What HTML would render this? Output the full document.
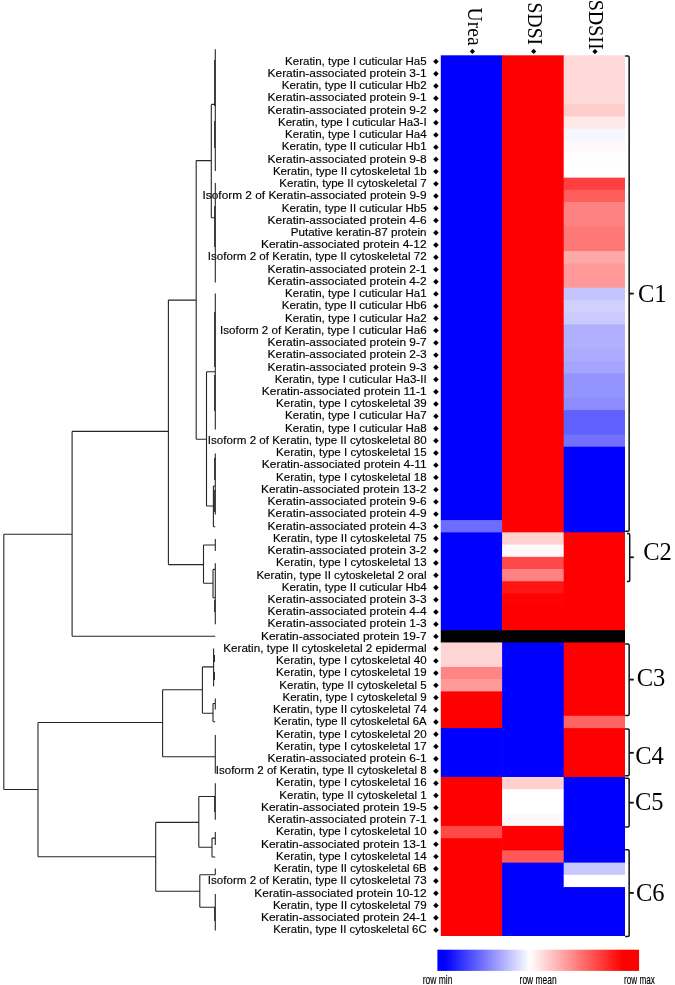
<!DOCTYPE html>
<html><head><meta charset="utf-8"><title>Keratin heatmap</title>
<style>html,body{margin:0;padding:0;background:#fff;}svg{display:block;}.lab{font-family:"Liberation Sans",sans-serif;font-size:11.4px;fill:#000;}.ser{font-family:"Liberation Serif",serif;fill:#000;}</style></head><body>
<svg width="675" height="985" viewBox="0 0 675 985" style="will-change:transform">
<rect x="0" y="0" width="675" height="985" fill="#ffffff"/>
<defs><linearGradient id="lg" x1="0" y1="0" x2="1" y2="0"><stop offset="0" stop-color="#0000ff"/><stop offset="0.038" stop-color="#0000ff"/><stop offset="0.4576" stop-color="#ffffff"/><stop offset="0.92" stop-color="#ff0000"/><stop offset="1" stop-color="#ff0000"/></linearGradient></defs>
<g id="heat">
<rect x="440.80" y="55.30" width="61.90" height="465.41" fill="#0000ff"/>
<rect x="440.80" y="520.11" width="61.90" height="12.83" fill="#6c6cff"/>
<rect x="440.80" y="532.35" width="61.90" height="98.46" fill="#0000ff"/>
<rect x="440.80" y="630.20" width="61.90" height="12.83" fill="#000000"/>
<rect x="440.80" y="642.43" width="61.90" height="25.06" fill="#ffd4d4"/>
<rect x="440.80" y="666.90" width="61.90" height="12.83" fill="#ff8484"/>
<rect x="440.80" y="679.13" width="61.90" height="12.83" fill="#ff9a9a"/>
<rect x="440.80" y="691.36" width="61.90" height="37.30" fill="#ff0000"/>
<rect x="440.80" y="728.06" width="61.90" height="49.53" fill="#0000ff"/>
<rect x="440.80" y="776.98" width="61.90" height="49.53" fill="#ff0000"/>
<rect x="440.80" y="825.91" width="61.90" height="12.83" fill="#ff4848"/>
<rect x="440.80" y="838.14" width="61.90" height="97.86" fill="#ff0000"/>
<rect x="502.10" y="55.30" width="62.20" height="477.65" fill="#ff0000"/>
<rect x="502.10" y="532.35" width="62.20" height="12.83" fill="#ffd0d0"/>
<rect x="502.10" y="544.58" width="62.20" height="12.83" fill="#fff8f8"/>
<rect x="502.10" y="556.81" width="62.20" height="12.83" fill="#ff4848"/>
<rect x="502.10" y="569.04" width="62.20" height="12.83" fill="#ff8282"/>
<rect x="502.10" y="581.27" width="62.20" height="12.83" fill="#ff1414"/>
<rect x="502.10" y="593.51" width="62.20" height="12.83" fill="#ff0202"/>
<rect x="502.10" y="605.74" width="62.20" height="25.06" fill="#ff0000"/>
<rect x="502.10" y="630.20" width="62.20" height="12.83" fill="#000000"/>
<rect x="502.10" y="642.43" width="62.20" height="135.15" fill="#0000ff"/>
<rect x="502.10" y="776.98" width="62.20" height="12.83" fill="#ffd0d0"/>
<rect x="502.10" y="789.22" width="62.20" height="25.06" fill="#ffffff"/>
<rect x="502.10" y="813.68" width="62.20" height="12.83" fill="#fff8f8"/>
<rect x="502.10" y="825.91" width="62.20" height="25.06" fill="#ff0000"/>
<rect x="502.10" y="850.38" width="62.20" height="12.83" fill="#ff5858"/>
<rect x="502.10" y="862.61" width="62.20" height="73.39" fill="#0000ff"/>
<rect x="563.70" y="55.30" width="61.30" height="49.53" fill="#ffd8d8"/>
<rect x="563.70" y="104.23" width="61.30" height="12.83" fill="#ffcccc"/>
<rect x="563.70" y="116.46" width="61.30" height="12.83" fill="#ffe8e8"/>
<rect x="563.70" y="128.69" width="61.30" height="12.83" fill="#f6f6ff"/>
<rect x="563.70" y="140.92" width="61.30" height="12.83" fill="#fffafa"/>
<rect x="563.70" y="153.16" width="61.30" height="12.83" fill="#fffefe"/>
<rect x="563.70" y="165.39" width="61.30" height="12.83" fill="#ffffff"/>
<rect x="563.70" y="177.62" width="61.30" height="12.83" fill="#ff4040"/>
<rect x="563.70" y="189.85" width="61.30" height="12.83" fill="#ff5c5c"/>
<rect x="563.70" y="202.08" width="61.30" height="25.06" fill="#ff8282"/>
<rect x="563.70" y="226.55" width="61.30" height="25.06" fill="#ff7878"/>
<rect x="563.70" y="251.01" width="61.30" height="12.83" fill="#ffa8a8"/>
<rect x="563.70" y="263.24" width="61.30" height="25.06" fill="#ff9898"/>
<rect x="563.70" y="287.71" width="61.30" height="12.83" fill="#c4c4ff"/>
<rect x="563.70" y="299.94" width="61.30" height="12.83" fill="#d0d0ff"/>
<rect x="563.70" y="312.17" width="61.30" height="12.83" fill="#cacaff"/>
<rect x="563.70" y="324.40" width="61.30" height="25.06" fill="#b0b0ff"/>
<rect x="563.70" y="348.87" width="61.30" height="12.83" fill="#ababff"/>
<rect x="563.70" y="361.10" width="61.30" height="12.83" fill="#a5a5ff"/>
<rect x="563.70" y="373.33" width="61.30" height="25.06" fill="#9494ff"/>
<rect x="563.70" y="397.79" width="61.30" height="12.83" fill="#8c8cff"/>
<rect x="563.70" y="410.03" width="61.30" height="25.06" fill="#6060ff"/>
<rect x="563.70" y="434.49" width="61.30" height="12.83" fill="#7272ff"/>
<rect x="563.70" y="446.72" width="61.30" height="86.22" fill="#0000ff"/>
<rect x="563.70" y="532.35" width="61.30" height="98.46" fill="#ff0000"/>
<rect x="563.70" y="630.20" width="61.30" height="12.83" fill="#000000"/>
<rect x="563.70" y="642.43" width="61.30" height="73.99" fill="#ff0000"/>
<rect x="563.70" y="715.82" width="61.30" height="12.83" fill="#ff6464"/>
<rect x="563.70" y="728.06" width="61.30" height="49.53" fill="#ff0000"/>
<rect x="563.70" y="776.98" width="61.30" height="86.22" fill="#0000ff"/>
<rect x="563.70" y="862.61" width="61.30" height="12.83" fill="#c8c8ff"/>
<rect x="563.70" y="874.84" width="61.30" height="12.83" fill="#ffffff"/>
<rect x="563.70" y="887.07" width="61.30" height="48.93" fill="#0000ff"/>
</g>
<g id="labels" class="lab" stroke="#000" stroke-width="0.15">
<g transform="translate(426.6 64.77) scale(1.0122 1)"><text text-anchor="end" x="0" y="0">Keratin, type I cuticular Ha5</text></g>
<path d="M433.20 61.52L435.90 58.82L438.60 61.52L435.90 64.22Z" fill="#000"/>
<g transform="translate(426.6 77.00) scale(1.0469 1)"><text text-anchor="end" x="0" y="0">Keratin-associated protein 3-1</text></g>
<path d="M433.20 73.75L435.90 71.05L438.60 73.75L435.90 76.45Z" fill="#000"/>
<g transform="translate(426.6 89.23) scale(1.0122 1)"><text text-anchor="end" x="0" y="0">Keratin, type II cuticular Hb2</text></g>
<path d="M433.20 85.98L435.90 83.28L438.60 85.98L435.90 88.68Z" fill="#000"/>
<g transform="translate(426.6 101.46) scale(1.0469 1)"><text text-anchor="end" x="0" y="0">Keratin-associated protein 9-1</text></g>
<path d="M433.20 98.21L435.90 95.51L438.60 98.21L435.90 100.91Z" fill="#000"/>
<g transform="translate(426.6 113.69) scale(1.0469 1)"><text text-anchor="end" x="0" y="0">Keratin-associated protein 9-2</text></g>
<path d="M433.20 110.44L435.90 107.74L438.60 110.44L435.90 113.14Z" fill="#000"/>
<g transform="translate(426.6 125.93) scale(1.0122 1)"><text text-anchor="end" x="0" y="0">Keratin, type I cuticular Ha3-I</text></g>
<path d="M433.20 122.68L435.90 119.98L438.60 122.68L435.90 125.38Z" fill="#000"/>
<g transform="translate(426.6 138.16) scale(1.0122 1)"><text text-anchor="end" x="0" y="0">Keratin, type I cuticular Ha4</text></g>
<path d="M433.20 134.91L435.90 132.21L438.60 134.91L435.90 137.61Z" fill="#000"/>
<g transform="translate(426.6 150.39) scale(1.0122 1)"><text text-anchor="end" x="0" y="0">Keratin, type II cuticular Hb1</text></g>
<path d="M433.20 147.14L435.90 144.44L438.60 147.14L435.90 149.84Z" fill="#000"/>
<g transform="translate(426.6 162.62) scale(1.0469 1)"><text text-anchor="end" x="0" y="0">Keratin-associated protein 9-8</text></g>
<path d="M433.20 159.37L435.90 156.67L438.60 159.37L435.90 162.07Z" fill="#000"/>
<g transform="translate(426.6 174.85) scale(1.0122 1)"><text text-anchor="end" x="0" y="0">Keratin, type II cytoskeletal 1b</text></g>
<path d="M433.20 171.60L435.90 168.90L438.60 171.60L435.90 174.30Z" fill="#000"/>
<g transform="translate(426.6 187.09) scale(1.0122 1)"><text text-anchor="end" x="0" y="0">Keratin, type II cytoskeletal 7</text></g>
<path d="M433.20 183.84L435.90 181.14L438.60 183.84L435.90 186.54Z" fill="#000"/>
<g transform="translate(426.6 199.32) scale(1.0411 1)"><text text-anchor="end" x="0" y="0">Isoform 2 of Keratin-associated protein 9-9</text></g>
<path d="M433.20 196.07L435.90 193.37L438.60 196.07L435.90 198.77Z" fill="#000"/>
<g transform="translate(426.6 211.55) scale(1.0122 1)"><text text-anchor="end" x="0" y="0">Keratin, type II cuticular Hb5</text></g>
<path d="M433.20 208.30L435.90 205.60L438.60 208.30L435.90 211.00Z" fill="#000"/>
<g transform="translate(426.6 223.78) scale(1.0469 1)"><text text-anchor="end" x="0" y="0">Keratin-associated protein 4-6</text></g>
<path d="M433.20 220.53L435.90 217.83L438.60 220.53L435.90 223.23Z" fill="#000"/>
<g transform="translate(426.6 236.01) scale(1.0228 1)"><text text-anchor="end" x="0" y="0">Putative keratin-87 protein</text></g>
<path d="M433.20 232.76L435.90 230.06L438.60 232.76L435.90 235.46Z" fill="#000"/>
<g transform="translate(426.6 248.25) scale(1.0469 1)"><text text-anchor="end" x="0" y="0">Keratin-associated protein 4-12</text></g>
<path d="M433.20 245.00L435.90 242.30L438.60 245.00L435.90 247.70Z" fill="#000"/>
<g transform="translate(426.6 260.48) scale(1.0161 1)"><text text-anchor="end" x="0" y="0">Isoform 2 of Keratin, type II cytoskeletal 72</text></g>
<path d="M433.20 257.23L435.90 254.53L438.60 257.23L435.90 259.93Z" fill="#000"/>
<g transform="translate(426.6 272.71) scale(1.0469 1)"><text text-anchor="end" x="0" y="0">Keratin-associated protein 2-1</text></g>
<path d="M433.20 269.46L435.90 266.76L438.60 269.46L435.90 272.16Z" fill="#000"/>
<g transform="translate(426.6 284.94) scale(1.0469 1)"><text text-anchor="end" x="0" y="0">Keratin-associated protein 4-2</text></g>
<path d="M433.20 281.69L435.90 278.99L438.60 281.69L435.90 284.39Z" fill="#000"/>
<g transform="translate(426.6 297.17) scale(1.0122 1)"><text text-anchor="end" x="0" y="0">Keratin, type I cuticular Ha1</text></g>
<path d="M433.20 293.92L435.90 291.22L438.60 293.92L435.90 296.62Z" fill="#000"/>
<g transform="translate(426.6 309.40) scale(1.0122 1)"><text text-anchor="end" x="0" y="0">Keratin, type II cuticular Hb6</text></g>
<path d="M433.20 306.15L435.90 303.45L438.60 306.15L435.90 308.85Z" fill="#000"/>
<g transform="translate(426.6 321.64) scale(1.0122 1)"><text text-anchor="end" x="0" y="0">Keratin, type I cuticular Ha2</text></g>
<path d="M433.20 318.39L435.90 315.69L438.60 318.39L435.90 321.09Z" fill="#000"/>
<g transform="translate(426.6 333.87) scale(1.0161 1)"><text text-anchor="end" x="0" y="0">Isoform 2 of Keratin, type I cuticular Ha6</text></g>
<path d="M433.20 330.62L435.90 327.92L438.60 330.62L435.90 333.32Z" fill="#000"/>
<g transform="translate(426.6 346.10) scale(1.0469 1)"><text text-anchor="end" x="0" y="0">Keratin-associated protein 9-7</text></g>
<path d="M433.20 342.85L435.90 340.15L438.60 342.85L435.90 345.55Z" fill="#000"/>
<g transform="translate(426.6 358.33) scale(1.0469 1)"><text text-anchor="end" x="0" y="0">Keratin-associated protein 2-3</text></g>
<path d="M433.20 355.08L435.90 352.38L438.60 355.08L435.90 357.78Z" fill="#000"/>
<g transform="translate(426.6 370.56) scale(1.0469 1)"><text text-anchor="end" x="0" y="0">Keratin-associated protein 9-3</text></g>
<path d="M433.20 367.31L435.90 364.61L438.60 367.31L435.90 370.01Z" fill="#000"/>
<g transform="translate(426.6 382.80) scale(1.0122 1)"><text text-anchor="end" x="0" y="0">Keratin, type I cuticular Ha3-II</text></g>
<path d="M433.20 379.55L435.90 376.85L438.60 379.55L435.90 382.25Z" fill="#000"/>
<g transform="translate(426.6 395.03) scale(1.0469 1)"><text text-anchor="end" x="0" y="0">Keratin-associated protein 11-1</text></g>
<path d="M433.20 391.78L435.90 389.08L438.60 391.78L435.90 394.48Z" fill="#000"/>
<g transform="translate(426.6 407.26) scale(1.0122 1)"><text text-anchor="end" x="0" y="0">Keratin, type I cytoskeletal 39</text></g>
<path d="M433.20 404.01L435.90 401.31L438.60 404.01L435.90 406.71Z" fill="#000"/>
<g transform="translate(426.6 419.49) scale(1.0122 1)"><text text-anchor="end" x="0" y="0">Keratin, type I cuticular Ha7</text></g>
<path d="M433.20 416.24L435.90 413.54L438.60 416.24L435.90 418.94Z" fill="#000"/>
<g transform="translate(426.6 431.72) scale(1.0122 1)"><text text-anchor="end" x="0" y="0">Keratin, type I cuticular Ha8</text></g>
<path d="M433.20 428.47L435.90 425.77L438.60 428.47L435.90 431.17Z" fill="#000"/>
<g transform="translate(426.6 443.96) scale(1.0161 1)"><text text-anchor="end" x="0" y="0">Isoform 2 of Keratin, type II cytoskeletal 80</text></g>
<path d="M433.20 440.71L435.90 438.01L438.60 440.71L435.90 443.41Z" fill="#000"/>
<g transform="translate(426.6 456.19) scale(1.0122 1)"><text text-anchor="end" x="0" y="0">Keratin, type I cytoskeletal 15</text></g>
<path d="M433.20 452.94L435.90 450.24L438.60 452.94L435.90 455.64Z" fill="#000"/>
<g transform="translate(426.6 468.42) scale(1.0469 1)"><text text-anchor="end" x="0" y="0">Keratin-associated protein 4-11</text></g>
<path d="M433.20 465.17L435.90 462.47L438.60 465.17L435.90 467.87Z" fill="#000"/>
<g transform="translate(426.6 480.65) scale(1.0122 1)"><text text-anchor="end" x="0" y="0">Keratin, type I cytoskeletal 18</text></g>
<path d="M433.20 477.40L435.90 474.70L438.60 477.40L435.90 480.10Z" fill="#000"/>
<g transform="translate(426.6 492.88) scale(1.0469 1)"><text text-anchor="end" x="0" y="0">Keratin-associated protein 13-2</text></g>
<path d="M433.20 489.63L435.90 486.93L438.60 489.63L435.90 492.33Z" fill="#000"/>
<g transform="translate(426.6 505.12) scale(1.0469 1)"><text text-anchor="end" x="0" y="0">Keratin-associated protein 9-6</text></g>
<path d="M433.20 501.87L435.90 499.17L438.60 501.87L435.90 504.57Z" fill="#000"/>
<g transform="translate(426.6 517.35) scale(1.0469 1)"><text text-anchor="end" x="0" y="0">Keratin-associated protein 4-9</text></g>
<path d="M433.20 514.10L435.90 511.40L438.60 514.10L435.90 516.80Z" fill="#000"/>
<g transform="translate(426.6 529.58) scale(1.0469 1)"><text text-anchor="end" x="0" y="0">Keratin-associated protein 4-3</text></g>
<path d="M433.20 526.33L435.90 523.63L438.60 526.33L435.90 529.03Z" fill="#000"/>
<g transform="translate(426.6 541.81) scale(1.0122 1)"><text text-anchor="end" x="0" y="0">Keratin, type II cytoskeletal 75</text></g>
<path d="M433.20 538.56L435.90 535.86L438.60 538.56L435.90 541.26Z" fill="#000"/>
<g transform="translate(426.6 554.04) scale(1.0469 1)"><text text-anchor="end" x="0" y="0">Keratin-associated protein 3-2</text></g>
<path d="M433.20 550.79L435.90 548.09L438.60 550.79L435.90 553.49Z" fill="#000"/>
<g transform="translate(426.6 566.28) scale(1.0122 1)"><text text-anchor="end" x="0" y="0">Keratin, type I cytoskeletal 13</text></g>
<path d="M433.20 563.03L435.90 560.33L438.60 563.03L435.90 565.73Z" fill="#000"/>
<g transform="translate(426.6 578.51) scale(1.0151 1)"><text text-anchor="end" x="0" y="0">Keratin, type II cytoskeletal 2 oral</text></g>
<path d="M433.20 575.26L435.90 572.56L438.60 575.26L435.90 577.96Z" fill="#000"/>
<g transform="translate(426.6 590.74) scale(1.0122 1)"><text text-anchor="end" x="0" y="0">Keratin, type II cuticular Hb4</text></g>
<path d="M433.20 587.49L435.90 584.79L438.60 587.49L435.90 590.19Z" fill="#000"/>
<g transform="translate(426.6 602.97) scale(1.0469 1)"><text text-anchor="end" x="0" y="0">Keratin-associated protein 3-3</text></g>
<path d="M433.20 599.72L435.90 597.02L438.60 599.72L435.90 602.42Z" fill="#000"/>
<g transform="translate(426.6 615.20) scale(1.0469 1)"><text text-anchor="end" x="0" y="0">Keratin-associated protein 4-4</text></g>
<path d="M433.20 611.95L435.90 609.25L438.60 611.95L435.90 614.65Z" fill="#000"/>
<g transform="translate(426.6 627.44) scale(1.0469 1)"><text text-anchor="end" x="0" y="0">Keratin-associated protein 1-3</text></g>
<path d="M433.20 624.19L435.90 621.49L438.60 624.19L435.90 626.89Z" fill="#000"/>
<g transform="translate(426.6 639.67) scale(1.0469 1)"><text text-anchor="end" x="0" y="0">Keratin-associated protein 19-7</text></g>
<path d="M433.20 636.42L435.90 633.72L438.60 636.42L435.90 639.12Z" fill="#000"/>
<g transform="translate(426.6 651.90) scale(1.0238 1)"><text text-anchor="end" x="0" y="0">Keratin, type II cytoskeletal 2 epidermal</text></g>
<path d="M433.20 648.65L435.90 645.95L438.60 648.65L435.90 651.35Z" fill="#000"/>
<g transform="translate(426.6 664.13) scale(1.0122 1)"><text text-anchor="end" x="0" y="0">Keratin, type I cytoskeletal 40</text></g>
<path d="M433.20 660.88L435.90 658.18L438.60 660.88L435.90 663.58Z" fill="#000"/>
<g transform="translate(426.6 676.36) scale(1.0122 1)"><text text-anchor="end" x="0" y="0">Keratin, type I cytoskeletal 19</text></g>
<path d="M433.20 673.11L435.90 670.41L438.60 673.11L435.90 675.81Z" fill="#000"/>
<g transform="translate(426.6 688.60) scale(1.0122 1)"><text text-anchor="end" x="0" y="0">Keratin, type II cytoskeletal 5</text></g>
<path d="M433.20 685.35L435.90 682.65L438.60 685.35L435.90 688.05Z" fill="#000"/>
<g transform="translate(426.6 700.83) scale(1.0122 1)"><text text-anchor="end" x="0" y="0">Keratin, type I cytoskeletal 9</text></g>
<path d="M433.20 697.58L435.90 694.88L438.60 697.58L435.90 700.28Z" fill="#000"/>
<g transform="translate(426.6 713.06) scale(1.0122 1)"><text text-anchor="end" x="0" y="0">Keratin, type II cytoskeletal 74</text></g>
<path d="M433.20 709.81L435.90 707.11L438.60 709.81L435.90 712.51Z" fill="#000"/>
<g transform="translate(426.6 725.29) scale(0.9977 1)"><text text-anchor="end" x="0" y="0">Keratin, type II cytoskeletal 6A</text></g>
<path d="M433.20 722.04L435.90 719.34L438.60 722.04L435.90 724.74Z" fill="#000"/>
<g transform="translate(426.6 737.52) scale(1.0122 1)"><text text-anchor="end" x="0" y="0">Keratin, type I cytoskeletal 20</text></g>
<path d="M433.20 734.27L435.90 731.57L438.60 734.27L435.90 736.97Z" fill="#000"/>
<g transform="translate(426.6 749.75) scale(1.0122 1)"><text text-anchor="end" x="0" y="0">Keratin, type I cytoskeletal 17</text></g>
<path d="M433.20 746.50L435.90 743.80L438.60 746.50L435.90 749.20Z" fill="#000"/>
<g transform="translate(426.6 761.99) scale(1.0469 1)"><text text-anchor="end" x="0" y="0">Keratin-associated protein 6-1</text></g>
<path d="M433.20 758.74L435.90 756.04L438.60 758.74L435.90 761.44Z" fill="#000"/>
<g transform="translate(426.6 774.22) scale(1.0093 1)"><text text-anchor="end" x="0" y="0">Isoform 2 of Keratin, type II cytoskeletal 8</text></g>
<path d="M433.20 770.97L435.90 768.27L438.60 770.97L435.90 773.67Z" fill="#000"/>
<g transform="translate(426.6 786.45) scale(1.0122 1)"><text text-anchor="end" x="0" y="0">Keratin, type I cytoskeletal 16</text></g>
<path d="M433.20 783.20L435.90 780.50L438.60 783.20L435.90 785.90Z" fill="#000"/>
<g transform="translate(426.6 798.68) scale(1.0122 1)"><text text-anchor="end" x="0" y="0">Keratin, type II cytoskeletal 1</text></g>
<path d="M433.20 795.43L435.90 792.73L438.60 795.43L435.90 798.13Z" fill="#000"/>
<g transform="translate(426.6 810.91) scale(1.0469 1)"><text text-anchor="end" x="0" y="0">Keratin-associated protein 19-5</text></g>
<path d="M433.20 807.66L435.90 804.96L438.60 807.66L435.90 810.36Z" fill="#000"/>
<g transform="translate(426.6 823.15) scale(1.0469 1)"><text text-anchor="end" x="0" y="0">Keratin-associated protein 7-1</text></g>
<path d="M433.20 819.90L435.90 817.20L438.60 819.90L435.90 822.60Z" fill="#000"/>
<g transform="translate(426.6 835.38) scale(1.0122 1)"><text text-anchor="end" x="0" y="0">Keratin, type I cytoskeletal 10</text></g>
<path d="M433.20 832.13L435.90 829.43L438.60 832.13L435.90 834.83Z" fill="#000"/>
<g transform="translate(426.6 847.61) scale(1.0469 1)"><text text-anchor="end" x="0" y="0">Keratin-associated protein 13-1</text></g>
<path d="M433.20 844.36L435.90 841.66L438.60 844.36L435.90 847.06Z" fill="#000"/>
<g transform="translate(426.6 859.84) scale(1.0122 1)"><text text-anchor="end" x="0" y="0">Keratin, type I cytoskeletal 14</text></g>
<path d="M433.20 856.59L435.90 853.89L438.60 856.59L435.90 859.29Z" fill="#000"/>
<g transform="translate(426.6 872.07) scale(0.9977 1)"><text text-anchor="end" x="0" y="0">Keratin, type II cytoskeletal 6B</text></g>
<path d="M433.20 868.82L435.90 866.12L438.60 868.82L435.90 871.52Z" fill="#000"/>
<g transform="translate(426.6 884.31) scale(1.0161 1)"><text text-anchor="end" x="0" y="0">Isoform 2 of Keratin, type II cytoskeletal 73</text></g>
<path d="M433.20 881.06L435.90 878.36L438.60 881.06L435.90 883.76Z" fill="#000"/>
<g transform="translate(426.6 896.54) scale(1.0469 1)"><text text-anchor="end" x="0" y="0">Keratin-associated protein 10-12</text></g>
<path d="M433.20 893.29L435.90 890.59L438.60 893.29L435.90 895.99Z" fill="#000"/>
<g transform="translate(426.6 908.77) scale(1.0122 1)"><text text-anchor="end" x="0" y="0">Keratin, type II cytoskeletal 79</text></g>
<path d="M433.20 905.52L435.90 902.82L438.60 905.52L435.90 908.22Z" fill="#000"/>
<g transform="translate(426.6 921.00) scale(1.0469 1)"><text text-anchor="end" x="0" y="0">Keratin-associated protein 24-1</text></g>
<path d="M433.20 917.75L435.90 915.05L438.60 917.75L435.90 920.45Z" fill="#000"/>
<g transform="translate(426.6 933.23) scale(0.9977 1)"><text text-anchor="end" x="0" y="0">Keratin, type II cytoskeletal 6C</text></g>
<path d="M433.20 929.98L435.90 927.28L438.60 929.98L435.90 932.68Z" fill="#000"/>
</g>
<g id="heads" class="ser">
<g transform="translate(467.7 7.6) rotate(90) scale(0.965 1)"><text x="0" y="0" font-size="20.3px">Urea</text></g>
<g transform="translate(527.8 2.6) rotate(90) scale(0.965 1)"><text x="0" y="0" font-size="20.3px">SDSI</text></g>
<g transform="translate(588.8 -0.3) rotate(90) scale(0.985 1)"><text x="0" y="0" font-size="20.3px">SDSII</text></g>
<path d="M469.80 51.40L472.40 48.80L475.00 51.40L472.40 54.00Z" fill="#000"/>
<path d="M531.10 51.40L533.70 48.80L536.30 51.40L533.70 54.00Z" fill="#000"/>
<path d="M592.40 51.60L595.00 49.00L597.60 51.60L595.00 54.20Z" fill="#000"/>
</g>
<g id="brackets" fill="none" stroke="#111" stroke-width="1.5" stroke-linejoin="round" stroke-linecap="butt">
<path d="M625.1 56.0H627.9Q629.15 56.0 629.15 57.2V530.0Q629.15 531.2 627.9 531.2H625.1"/>
<path d="M629.15 293.6H633.8" stroke-width="1.8"/>
<path d="M627.0 533.5H628.5Q629.7 533.5 629.7 534.7V580.2Q629.7 581.4 628.5 581.4H627.0"/>
<path d="M629.7 557.3H633.8" stroke-width="1.8"/>
<path d="M625.1 644.0H627.9Q629.15 644.0 629.15 645.2V714.3Q629.15 715.5 627.9 715.5H625.1"/>
<path d="M629.15 679.6H633.8" stroke-width="1.8"/>
<path d="M625.1 729.0H627.9Q629.15 729.0 629.15 730.2V774.6Q629.15 775.8 627.9 775.8H625.1"/>
<path d="M629.15 752.8H633.8" stroke-width="1.8"/>
<path d="M625.1 778.2H627.9Q629.15 778.2 629.15 779.4V825.8Q629.15 827.0 627.9 827.0H625.1"/>
<path d="M629.15 802.7H633.8" stroke-width="1.8"/>
<path d="M625.1 849.7H627.9Q629.15 849.7 629.15 850.9V935.2Q629.15 936.4 627.9 936.4H625.1"/>
<path d="M629.15 892.9H633.8" stroke-width="1.8"/>
</g>
<g id="clabels" class="ser" font-size="25px">
<text transform="translate(637.9 301.7) scale(0.98 1)">C1</text>
<text transform="translate(643.2 560.1) scale(0.98 1)">C2</text>
<text transform="translate(636.7 686.3) scale(0.98 1)">C3</text>
<text transform="translate(635.2 763.6) scale(0.98 1)">C4</text>
<text transform="translate(634.9 810.3) scale(0.98 1)">C5</text>
<text transform="translate(635.9 900.8) scale(0.98 1)">C6</text>
</g>
<g id="dendro" fill="none" stroke="#262626" stroke-width="1.1">
<path d="M3.8 534.2V789.5M3.8 534.2H72.1M3.8 789.5H38.0M72.1 431.4V636.3M72.1 431.4H168.4M72.1 636.3H215.3M38.0 722.5V856.8M38.0 722.5H162.6M38.0 856.8H155.7M168.4 300.1V564.6M168.4 300.1H196.2M168.4 564.6H203.5M196.2 160.6V439.3M196.2 160.6H211.3M196.2 439.3H206.5M211.3 104.4V217.8M211.3 104.4H215.3M211.3 217.8H215.3M206.5 371.7V506.0M206.5 371.7H215.3M206.5 506.0H213.4M213.4 486.0V526.7M213.4 486.0H215.3M213.4 526.7H215.3M203.5 545.0V583.2M203.5 545.0H215.3M203.5 583.2H213.0M213.0 569.4V597.8M213.0 569.4H215.3M213.0 597.8H215.3M162.6 689.7V756.7M162.6 689.7H202.4M162.6 756.7H215.3M202.4 666.9V713.3M202.4 666.9H213.5M202.4 713.3H213.0M213.6 648.6V686.2M213.0 703.5V721.8M213.0 703.5H215.3M213.0 721.8H215.3M155.7 822.4V891.3M155.7 822.4H198.8M155.7 891.3H199.8M198.8 796.5V847.2M198.8 796.5H215.3M198.8 847.2H212.0M212.0 838.1V857.0M212.0 838.1H215.3M212.0 857.0H215.3M199.8 874.7V907.2M199.8 874.7H215.3M199.8 907.2H215.3M215.3 49.2V171.0M215.3 183.0V282.4M215.3 293.6V429.5M215.3 453.5V514.5M215.3 539.0V551.0M215.3 563.3V624.2M215.3 698.4V709.6M215.3 735.0V773.6M215.3 783.2V819.8M215.3 832.0V845.0M215.3 868.6V874.7M215.3 894.0V930.6"/>
<path d="M214.6 60V106M214.6 121V148M214.6 206V247M214.6 312V367M214.6 375V411M214.6 458V480M214.6 490V512M214.6 600V612M214.6 796V812M214.6 907V921M214.5 655V662M214.5 672V680" stroke="#1a1a1a" stroke-width="0.9"/>
</g>
<rect x="437.4" y="949.7" width="201.7" height="21.2" fill="url(#lg)"/>
<g id="legend" class="lab" style="font-size:12px" stroke="#000" stroke-width="0.15">
<g transform="translate(422.8 983.9) scale(0.705 1)"><text x="0" y="0">row min</text></g>
<g transform="translate(519.6 983.9) scale(0.702 1)"><text x="0" y="0">row mean</text></g>
<g transform="translate(624.0 983.9) scale(0.679 1)"><text x="0" y="0">row max</text></g>
</g>
</svg></body></html>
